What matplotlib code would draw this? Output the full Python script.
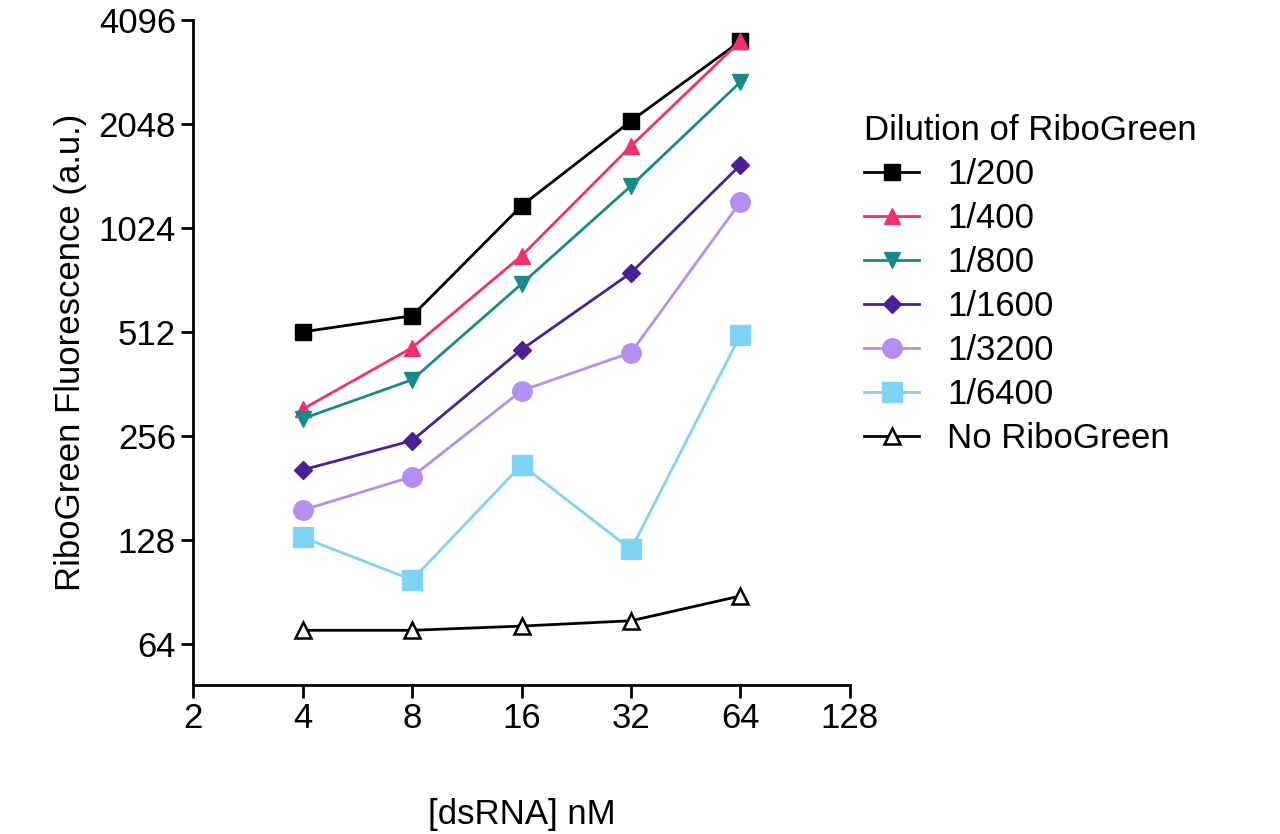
import matplotlib
matplotlib.use("Agg")
import matplotlib.pyplot as plt

plt.rcParams['font.family'] = ['Liberation Sans', 'DejaVu Sans']

x = [4, 8, 16, 32, 64]
d200 = [512, 570, 1187, 2089, 3560]
d400 = [306, 461, 850, 1768, 3560]
d800 = [287, 372, 705, 1355, 2710]
d1600 = [204, 248, 455, 759, 1559]
d3200 = [156, 195, 346, 446, 1218]
d6400 = [130, 98, 211, 120, 502]
none = [70, 70, 72, 74.6, 88]

fig = plt.figure(figsize=(12.8, 8.34), dpi=100)
ax = fig.add_axes([0.151, 0.179, 0.513, 0.797])

ax.plot(x, d200, '-s', color='black', ms=12, lw=2, label='1/200')
ax.plot(x, d400, '-^', color='#f2306f', ms=12, lw=2, label='1/400')
ax.plot(x, d800, '-v', color='#178a8a', ms=12, lw=2, label='1/800')
ax.plot(x, d1600, '-D', color='#4b2096', ms=9, lw=2, label='1/1600')
ax.plot(x, d3200, '-o', color='#b48ef0', ms=14, lw=2, label='1/3200')
ax.plot(x, d6400, '-s', color='#7fd3f5', ms=14, lw=2, label='1/6400')
ax.plot(x, none, '-^', color='black', mfc='white', mew=1.8, ms=12, lw=2, label='No RiboGreen')

ax.set_xscale('log', base=2)
ax.set_yscale('log', base=2)
ax.set_xlim(2, 128)
ax.set_ylim(48.7, 4096)
ax.set_xticks([2, 4, 8, 16, 32, 64, 128])
ax.set_xticklabels(['2', '4', '8', '16', '32', '64', '128'])
ax.set_yticks([64, 128, 256, 512, 1024, 2048, 4096])
ax.set_yticklabels(['64', '128', '256', '512', '1024', '2048', '4096'])
ax.minorticks_off()
for s in ['top', 'right']:
    ax.spines[s].set_visible(False)
for s in ['left', 'bottom']:
    ax.spines[s].set_linewidth(2)
ax.tick_params(labelsize=25, width=2, length=9)
ax.set_xlabel('[dsRNA] nM', fontsize=25, labelpad=45)
ax.set_ylabel('RiboGreen Fluorescence (a.u.)', fontsize=25, labelpad=8)

leg = ax.legend(title='Dilution of RiboGreen', loc='upper left', bbox_to_anchor=(1.0, 0.88),
                frameon=False, fontsize=25, title_fontsize=25, handlelength=1.6,
                labelspacing=0.32, borderaxespad=0)
leg._legend_box.align = 'left'

fig.savefig('out.png', dpi=100)
